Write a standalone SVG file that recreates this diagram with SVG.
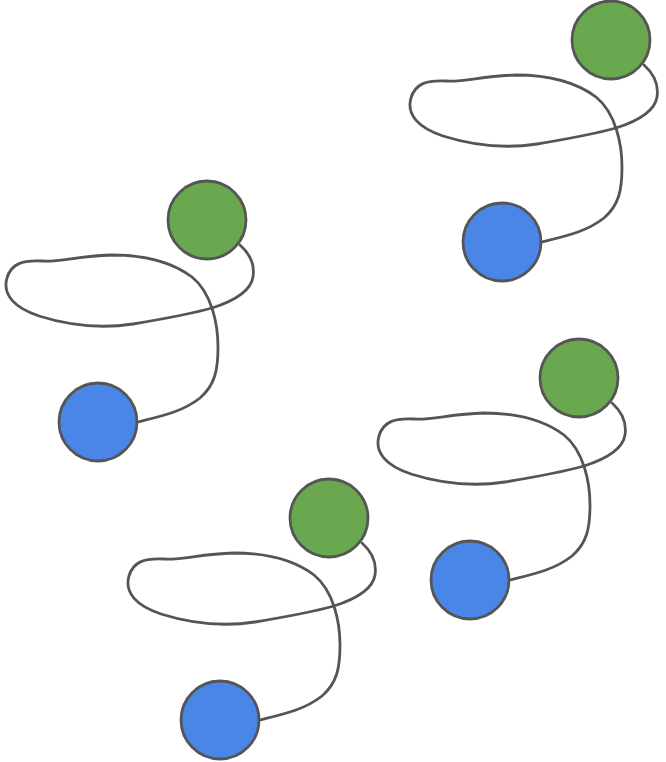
<svg xmlns="http://www.w3.org/2000/svg" width="666" height="762" viewBox="0 0 666 762">
<style>
.g{fill:#6aa84f;stroke:#555555;stroke-width:2.8}
.b{fill:#4a86e8;stroke:#555555;stroke-width:2.8}
.c{fill:none;stroke:#555555;stroke-width:2.8;stroke-linecap:round}
</style>
<defs>
<path id="loop" d="M33,25 C42,33 48,44 46,57 C44,70 30,80 5,88 C-20,95 -50,100 -74,104 C-100,108 -130,108 -168,96 C-192,88 -205,75 -200,58 C-196,44 -185,40 -165,41 C-145,42 -130,36 -95,35 C-60,35 -35,42 -15,57 C5,73 11,105 11,127 C11,150 8,165 -7,178 C-25,192 -45,196 -69,202"/>
</defs>
<g id="connectors">
<use href="#loop" class="c" transform="translate(207,220)"/>
<use href="#loop" class="c" transform="translate(611,40)"/>
<use href="#loop" class="c" transform="translate(579,378)"/>
<use href="#loop" class="c" transform="translate(329,518)"/>
</g>
<g id="green1"><circle class="g" cx="207" cy="220" r="39"/></g>
<g id="blue1"><circle class="b" cx="98" cy="422" r="39"/></g>
<g id="green2"><circle class="g" cx="611" cy="40" r="39"/></g>
<g id="blue2"><circle class="b" cx="502" cy="242" r="39"/></g>
<g id="green3"><circle class="g" cx="579" cy="378" r="39"/></g>
<g id="blue3"><circle class="b" cx="470" cy="580" r="39"/></g>
<g id="green4"><circle class="g" cx="329" cy="518" r="39"/></g>
<g id="blue4"><circle class="b" cx="220" cy="720" r="39"/></g>
</svg>
